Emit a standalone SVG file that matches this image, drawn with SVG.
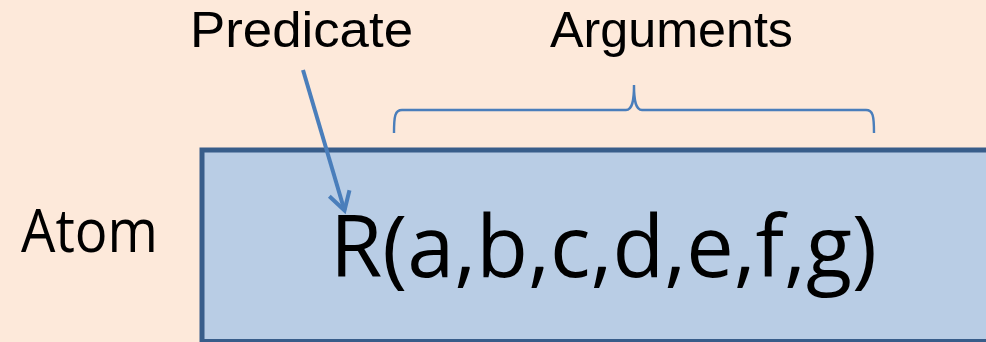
<svg xmlns="http://www.w3.org/2000/svg" width="986" height="342" viewBox="0 0 986 342">
<style>
.lbl{font-family:"Liberation Sans",Arial,sans-serif;font-size:50px;fill:#000}
.cal{font-family:"Open Sans","Noto Sans",sans-serif;fill:#000}
.conn{fill:none;stroke:#4A7EBB;stroke-linecap:butt;stroke-linejoin:miter}
</style>
<defs>
<marker id="openArrow" markerUnits="userSpaceOnUse" markerWidth="40" markerHeight="40" refX="0" refY="0" orient="auto" overflow="visible">
<path d="M-18,-10.5 L0,0 L-18,10.5" fill="none" stroke="#4A7EBB" stroke-width="4" stroke-linejoin="miter"/>
</marker>
</defs>
<rect x="0" y="0" width="986" height="342" fill="#FDE9DA"/>
<g id="atom-box">
<rect x="202" y="150" width="820" height="191.5" fill="#B9CDE5" stroke="#385D8A" stroke-width="5"/>
<text class="cal" x="330" y="277" font-size="86" textLength="547" lengthAdjust="spacingAndGlyphs">R(a,b,c,d,e,f,g)</text>
</g>
<g id="atom-label">
<text class="cal" x="21" y="252" font-size="60" textLength="137" lengthAdjust="spacingAndGlyphs">Atom</text>
</g>
<g id="predicate-label">
<text class="lbl" x="190" y="46.7" textLength="223" lengthAdjust="spacingAndGlyphs">Predicate</text>
</g>
<g id="arguments-label">
<text class="lbl" x="550" y="46.7" textLength="243" lengthAdjust="spacingAndGlyphs">Arguments</text>
</g>
<g id="connectors">
<path class="conn" d="M303,70 L344.5,210.5" stroke-width="4" marker-end="url(#openArrow)"/>
<path class="conn" d="M394,133 C394,116 395,110 402,110 L626,110 C632,110 634,102 634,85 C634,102 636,110 642,110 L866,110 C873,110 874,116 874,133" stroke-width="2.4"/>
</g>
</svg>
